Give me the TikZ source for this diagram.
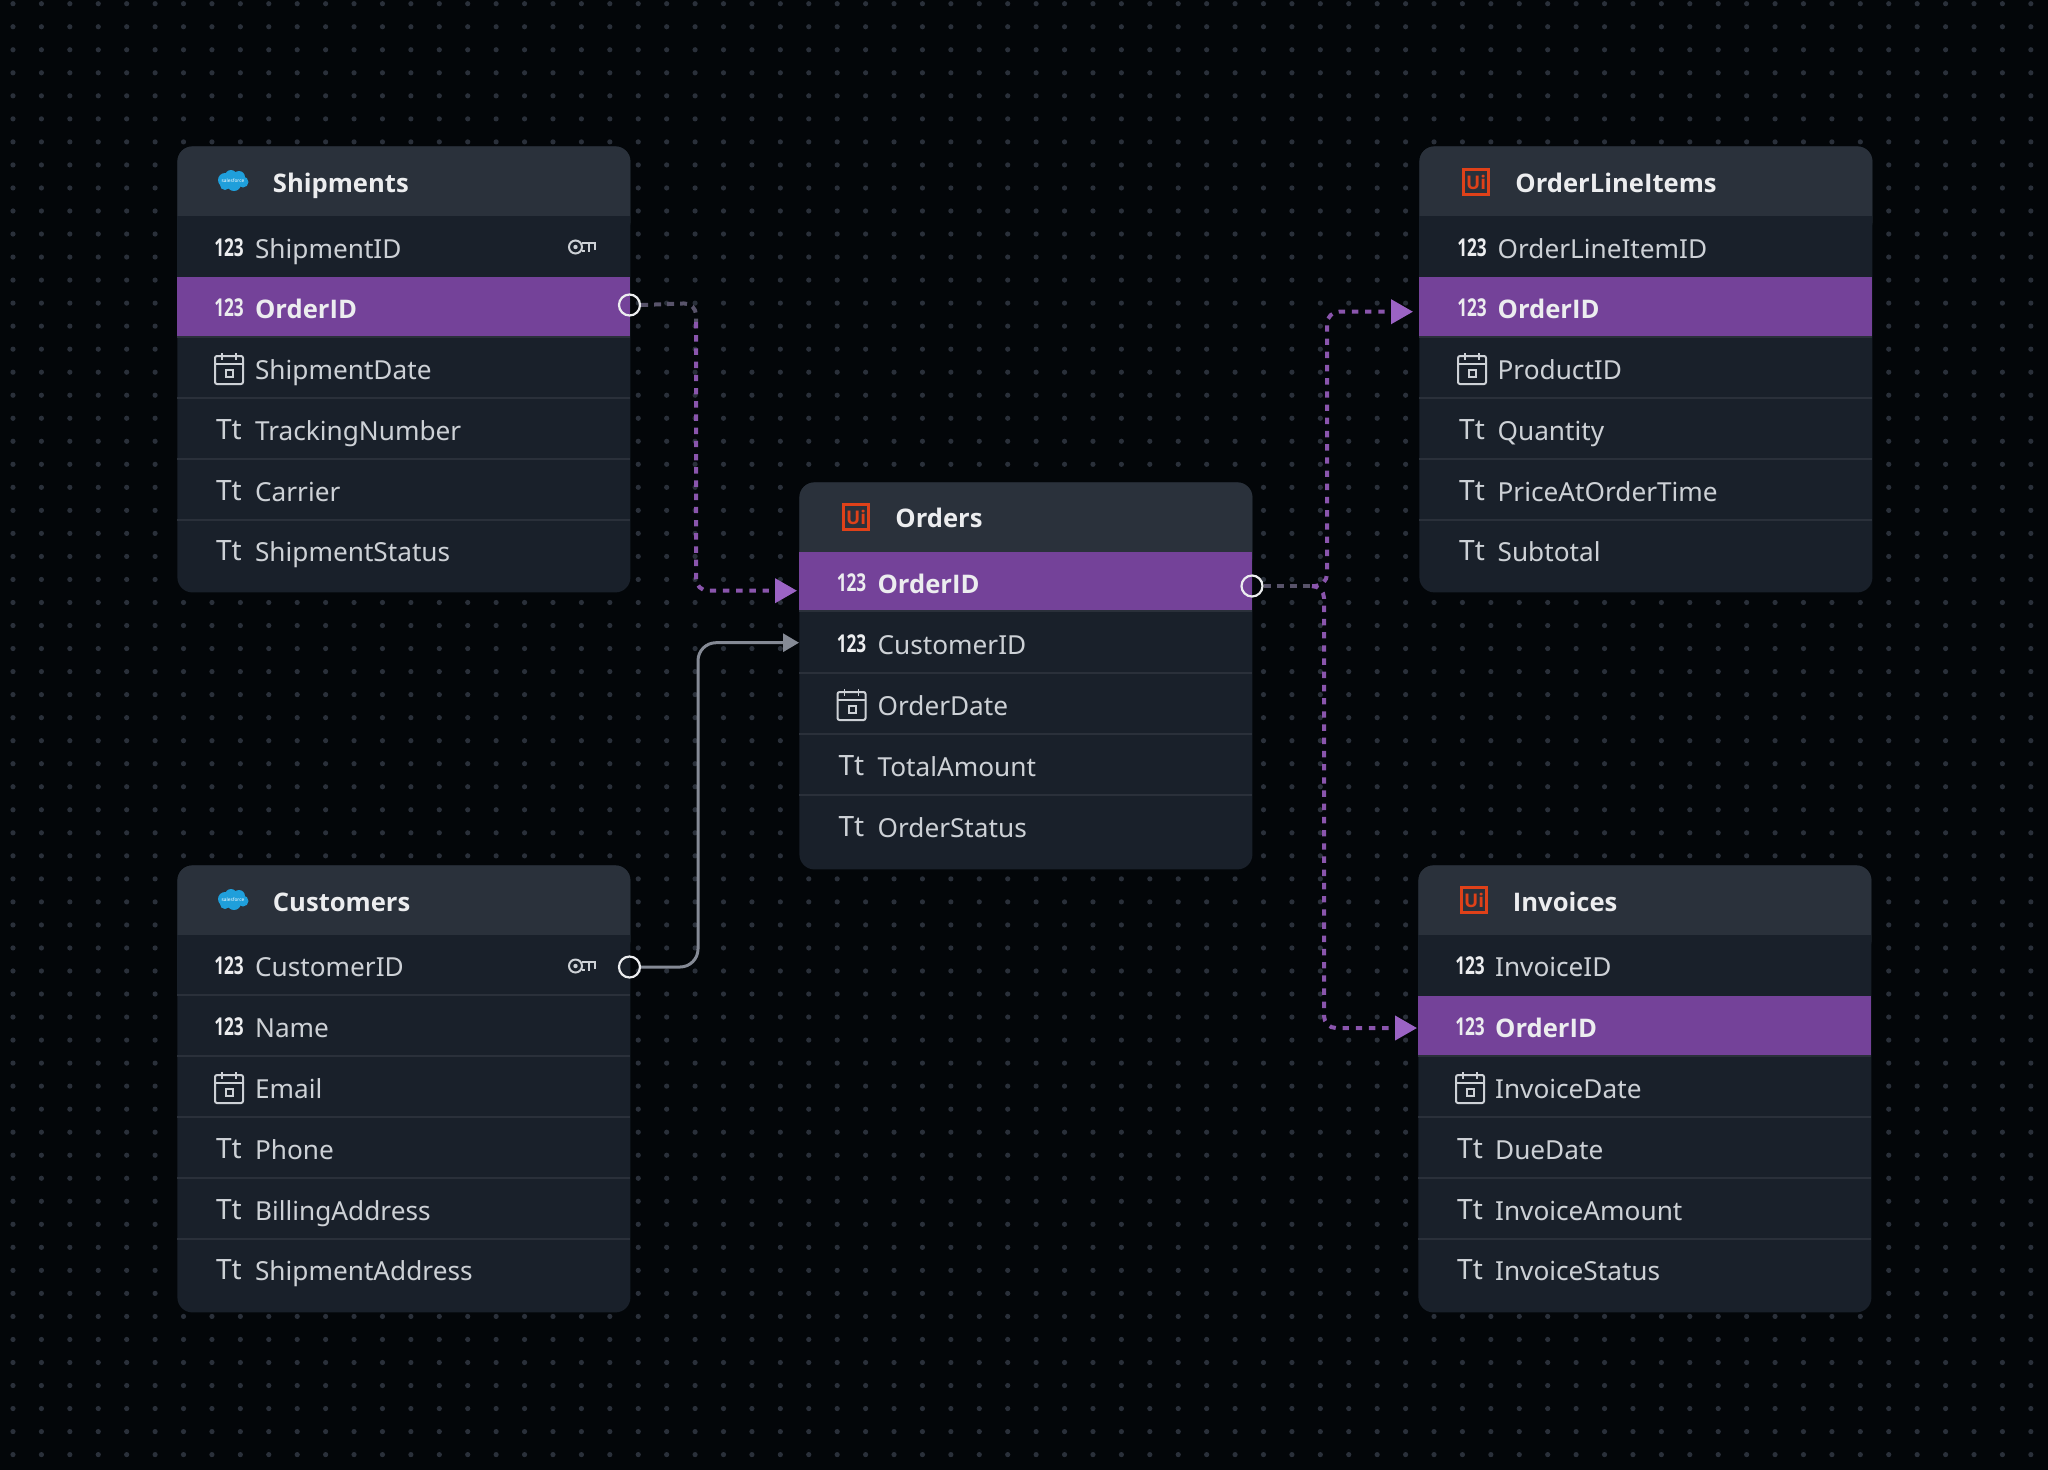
\documentclass[tikz,border=0pt]{standalone}
\usepackage{fontspec}
\setmainfont{Noto Sans}
\newfontfamily\numfont[FakeStretch=0.7]{Open Sans}
\newfontfamily\headfont{Open Sans}
\usetikzlibrary{arrows.meta,calc}
\definecolor{erBack}{HTML}{030609}
\definecolor{erDot}{HTML}{2A303A}
\definecolor{erHead}{HTML}{2A313B}
\definecolor{erRow}{HTML}{19202A}
\definecolor{erSep}{HTML}{2A303A}
\definecolor{erPurple}{HTML}{744299}
\definecolor{erRel}{HTML}{8A55AD}
\definecolor{erTip}{HTML}{9B63C4}
\definecolor{erStub}{HTML}{58536A}
\definecolor{erGrey}{HTML}{858A95}
\definecolor{erText}{HTML}{CDD1D6}
\definecolor{erWhite}{HTML}{ECEDEF}
\definecolor{erUi}{HTML}{DF4119}
\definecolor{erCloud}{HTML}{1F9FDB}
\tikzset{
  griddot/.style   ={fill=erDot},
  tablebody/.style ={fill=erRow,rounded corners=7.5pt,minimum width=226.5pt,
                     anchor=north west,inner sep=0pt},
  tablehead/.style ={fill=erHead,rounded corners=7.5pt,minimum width=226.5pt,
                     minimum height=45pt,anchor=north west,inner sep=0pt},
  rowband/.style   ={fill=erRow,minimum width=226.5pt,minimum height=30.5pt,
                     anchor=north west,inner sep=0pt},
  hiband/.style    ={fill=erPurple,minimum width=226.5pt,minimum height=29.5pt,
                     anchor=north west,inner sep=0pt},
  rowsep/.style    ={erSep,line width=0.6pt},
  headlbl/.style   ={anchor=base west,inner sep=0pt,text=erWhite,yshift=-0.6pt,
                     font=\headfont\bfseries\fontsize{12.8}{15}\selectfont},
  rowlbl/.style    ={anchor=base west,inner sep=0pt,text=erText,yshift=-0.6pt,xshift=-0.4pt,
                     font=\fontsize{13.1}{15}\selectfont},
  hilbl/.style     ={anchor=base west,inner sep=0pt,text=erWhite,yshift=-0.6pt,xshift=-0.4pt,
                     font=\headfont\bfseries\fontsize{12.8}{15}\selectfont},
  numicon/.style   ={anchor=base,inner sep=0pt,text=erWhite,yshift=-0.3pt,
                     font=\numfont\bfseries\fontsize{12.3}{15}\selectfont},
  texticon/.style  ={anchor=base,inner sep=0pt,text=erText,yshift=-0.5pt,
                     font=\fontsize{14}{15}\selectfont},
  uilogo/.style    ={draw=erUi,line width=1.4pt,minimum size=12.8pt,inner sep=0pt,
                     text=erUi,font=\headfont\bfseries\fontsize{9.4}{10}\selectfont},
  sflbl/.style     ={inner sep=0pt,text=white,font=\fontsize{2.4}{3}\selectfont},
  port/.style      ={circle,draw=erWhite,line width=1.1pt,minimum size=10.5pt,inner sep=0pt},
  relstub/.style   ={erStub,line width=2pt,dash pattern=on 3.5pt off 3pt,rounded corners=6pt},
  reldash/.style   ={erRel,line width=2pt,dash pattern=on 3.2pt off 3.4pt,rounded corners=6pt,
                     -{Triangle[length=11pt,width=12pt,color=erTip]}},
  relsolid/.style  ={erGrey,line width=1.5pt,rounded corners=9pt,
                     -{Triangle[length=8pt,width=9pt]}},
  calicon/.pic={
    \draw[erText,line width=1pt,rounded corners=1pt] (-14,-13) rectangle (14,15);
    \draw[erText,line width=0.9pt] (-14,-5) -- (14,-5) (-7,-16) -- (-7,-9) (7,-16) -- (7,-9);
    \draw[erText,line width=1pt] (-3,1) rectangle (4,8);
  },
  keyicon/.pic={
    \draw[erText,line width=1pt] (-6,0) circle[radius=6.5];
    \fill[erText] (-6,0) circle[radius=2.2];
    \draw[erText,line width=1pt] (0,-4) -- (13,-4) -- (13,3) (0,4) -- (3,4) (7,-4) -- (7,5);
  },
  sfcloud/.pic={
    \fill[erCloud] (-8,-1) circle[radius=7] (-2,-5) circle[radius=6] (6,-4) circle[radius=6]
      (10,1) circle[radius=5.5] (1,3) circle[radius=7] (-8,4) circle[radius=5] (-1,0) circle[radius=7];
    \node[sflbl] at (0,0) {salesforce};
  },
}
\begin{document}
\begin{tikzpicture}[x=0.5pt,y=-0.5pt]
\useasboundingbox (0,0) rectangle (2048,1469);
\fill[erBack] (-6,-6) rectangle (2054,1475);
\foreach \i in {0,...,71}{
  \foreach \j in {0,...,63}{
    \fill[griddot] ({13+28.42*\i},{3.7+23.03*\j}) circle[radius=2.6];
  }
}

%% Shipments
\node[tablebody,minimum height=223pt] (shipments) at (177,146) {};
\node[tablehead] (shipHead) at (177,146) {};
\node[rowband] (shipBand) at (177,216) {};
\node[hiband] (shipHi) at (177,277) {};
\draw[rowsep] (177,337) -- (630,337) (177,398) -- (630,398) (177,459) -- (630,459) (177,520) -- (630,520);
\pic at (233,181) {sfcloud};
\node[headlbl] (shipTitle) at (272.5,191.5) {Shipments};
\node[numicon] (shipIconA) at (229,255.5) {123};
\node[rowlbl] (shipIdLbl) at (255.5,257) {ShipmentID};
\pic at (581.5,247) {keyicon};
\node[numicon] (shipIconB) at (229,316) {123};
\node[hilbl] (shipOrderLbl) at (255.5,317.5) {OrderID};
\pic at (229,369) {calicon};
\node[rowlbl] (shipDateLbl) at (255.5,378) {ShipmentDate};
\node[texticon] (shipIconC) at (229,438.5) {Tt};
\node[rowlbl] (shipTrackLbl) at (255.5,439.5) {TrackingNumber};
\node[texticon] (shipIconD) at (229,499.5) {Tt};
\node[rowlbl] (shipCarrierLbl) at (255.5,500.5) {Carrier};
\node[texticon] (shipIconE) at (229,559) {Tt};
\node[rowlbl] (shipStatusLbl) at (255.5,560) {ShipmentStatus};

%% Customers
\node[tablebody,minimum height=223.5pt] (customers) at (177,865) {};
\node[tablehead] (custHead) at (177,865) {};
\node[rowband] (custBand) at (177,935) {};
\draw[rowsep] (177,995) -- (630,995) (177,1056) -- (630,1056) (177,1117) -- (630,1117) (177,1178) -- (630,1178) (177,1239) -- (630,1239);
\pic at (233,900) {sfcloud};
\node[headlbl] (custTitle) at (272.5,910.5) {Customers};
\node[numicon] (custIconA) at (229,973.5) {123};
\node[rowlbl] (custIdLbl) at (255.5,975) {CustomerID};
\pic at (581.5,966) {keyicon};
\node[numicon] (custIconB) at (229,1034.5) {123};
\node[rowlbl] (custNameLbl) at (255.5,1036) {Name};
\pic at (229,1088) {calicon};
\node[rowlbl] (custMailLbl) at (255.5,1097) {Email};
\node[texticon] (custIconC) at (229,1157) {Tt};
\node[rowlbl] (custPhoneLbl) at (255.5,1158) {Phone};
\node[texticon] (custIconD) at (229,1218) {Tt};
\node[rowlbl] (custBillLbl) at (255.5,1219) {BillingAddress};
\node[texticon] (custIconE) at (229,1278) {Tt};
\node[rowlbl] (custShipLbl) at (255.5,1279) {ShipmentAddress};

%% Orders
\node[tablebody,minimum height=193.5pt] (orders) at (799,482) {};
\node[tablehead] (ordHead) at (799,482) {};
\node[hiband,minimum height=29pt] (ordHi) at (799,552) {};
\draw[rowsep] (799,611) -- (1252,611) (799,673) -- (1252,673) (799,734) -- (1252,734) (799,795) -- (1252,795);
\node[uilogo] (ordLogo) at (856,517) {Ui};
\node[headlbl] (ordTitle) at (895,526.5) {Orders};
\node[numicon] (ordIconA) at (851.5,590.5) {123};
\node[hilbl] (ordIdLbl) at (878,592) {OrderID};
\node[numicon] (ordIconB) at (851.5,651.5) {123};
\node[rowlbl] (ordCustLbl) at (878,653) {CustomerID};
\pic at (851.5,705) {calicon};
\node[rowlbl] (ordDateLbl) at (878,714) {OrderDate};
\node[texticon] (ordIconC) at (851.5,774) {Tt};
\node[rowlbl] (ordTotalLbl) at (878,775) {TotalAmount};
\node[texticon] (ordIconD) at (851.5,835) {Tt};
\node[rowlbl] (ordStatusLbl) at (878,836) {OrderStatus};

%% OrderLineItems
\node[tablebody,minimum height=223pt] (lineitems) at (1419,146) {};
\node[tablehead] (lineHead) at (1419,146) {};
\node[rowband] (lineBand) at (1419,216) {};
\node[hiband] (lineHi) at (1419,277) {};
\draw[rowsep] (1419,337) -- (1872,337) (1419,398) -- (1872,398) (1419,459) -- (1872,459) (1419,520) -- (1872,520);
\node[uilogo] (lineLogo) at (1476,182) {Ui};
\node[headlbl] (lineTitle) at (1515,191.5) {OrderLineItems};
\node[numicon] (lineIconA) at (1472,255.5) {123};
\node[rowlbl] (lineIdLbl) at (1498,257) {OrderLineItemID};
\node[numicon] (lineIconB) at (1472,316) {123};
\node[hilbl] (lineOrderLbl) at (1498,317.5) {OrderID};
\pic at (1472,369) {calicon};
\node[rowlbl] (lineProdLbl) at (1498,378) {ProductID};
\node[texticon] (lineIconC) at (1472,438.5) {Tt};
\node[rowlbl] (lineQtyLbl) at (1498,439.5) {Quantity};
\node[texticon] (lineIconD) at (1472,499.5) {Tt};
\node[rowlbl] (linePriceLbl) at (1498,500.5) {PriceAtOrderTime};
\node[texticon] (lineIconE) at (1472,559) {Tt};
\node[rowlbl] (lineSubLbl) at (1498,560) {Subtotal};

%% Invoices
\node[tablebody,minimum height=223.5pt] (invoices) at (1418,865) {};
\node[tablehead] (invHead) at (1418,865) {};
\node[rowband] (invBand) at (1418,935) {};
\node[hiband] (invHi) at (1418,996) {};
\draw[rowsep] (1418,1056) -- (1871,1056) (1418,1117) -- (1871,1117) (1418,1178) -- (1871,1178) (1418,1239) -- (1871,1239);
\node[uilogo] (invLogo) at (1474,900) {Ui};
\node[headlbl] (invTitle) at (1512.5,910.5) {Invoices};
\node[numicon] (invIconA) at (1470,973.5) {123};
\node[rowlbl] (invIdLbl) at (1495.5,975) {InvoiceID};
\node[numicon] (invIconB) at (1470,1034.5) {123};
\node[hilbl] (invOrderLbl) at (1495.5,1036) {OrderID};
\pic at (1470,1088) {calicon};
\node[rowlbl] (invDateLbl) at (1495.5,1097) {InvoiceDate};
\node[texticon] (invIconC) at (1470,1157) {Tt};
\node[rowlbl] (invDueLbl) at (1495.5,1158) {DueDate};
\node[texticon] (invIconD) at (1470,1218) {Tt};
\node[rowlbl] (invAmountLbl) at (1495.5,1219) {InvoiceAmount};
\node[texticon] (invIconE) at (1470,1278) {Tt};
\node[rowlbl] (invStatusLbl) at (1495.5,1279) {InvoiceStatus};

%% relations
\node[port] (shipPort) at (629.5,305) {};
\node[port] (custPort) at (629.5,967) {};
\node[port] (ordPort) at (1252,586) {};
\coordinate (shipJoint) at (696,322);
\coordinate (ordJoint) at (1312,586);
\coordinate (ordTip) at (797,590.7);
\coordinate (custTip) at (799,642.7);
\coordinate (lineTip) at (1413,311.7);
\coordinate (invTip) at (1417,1028);

\draw[relstub] (shipPort.east) -- (shipJoint |- 0,303) -- (shipJoint);
\draw[reldash] (shipJoint) -- (shipJoint |- ordTip) -- (ordTip);
\draw[relsolid] (custPort.east) -- (698,967) -- (698,642.7) -- (custTip);
\draw[relstub] (ordPort.east) -- (ordJoint);
\draw[reldash] (ordJoint) -- (1327,586) -- (1327,311.7) -- (lineTip);
\draw[reldash] (ordJoint) -- (1324,586) -- (1324,1028) -- (invTip);
\end{tikzpicture}
\end{document}
